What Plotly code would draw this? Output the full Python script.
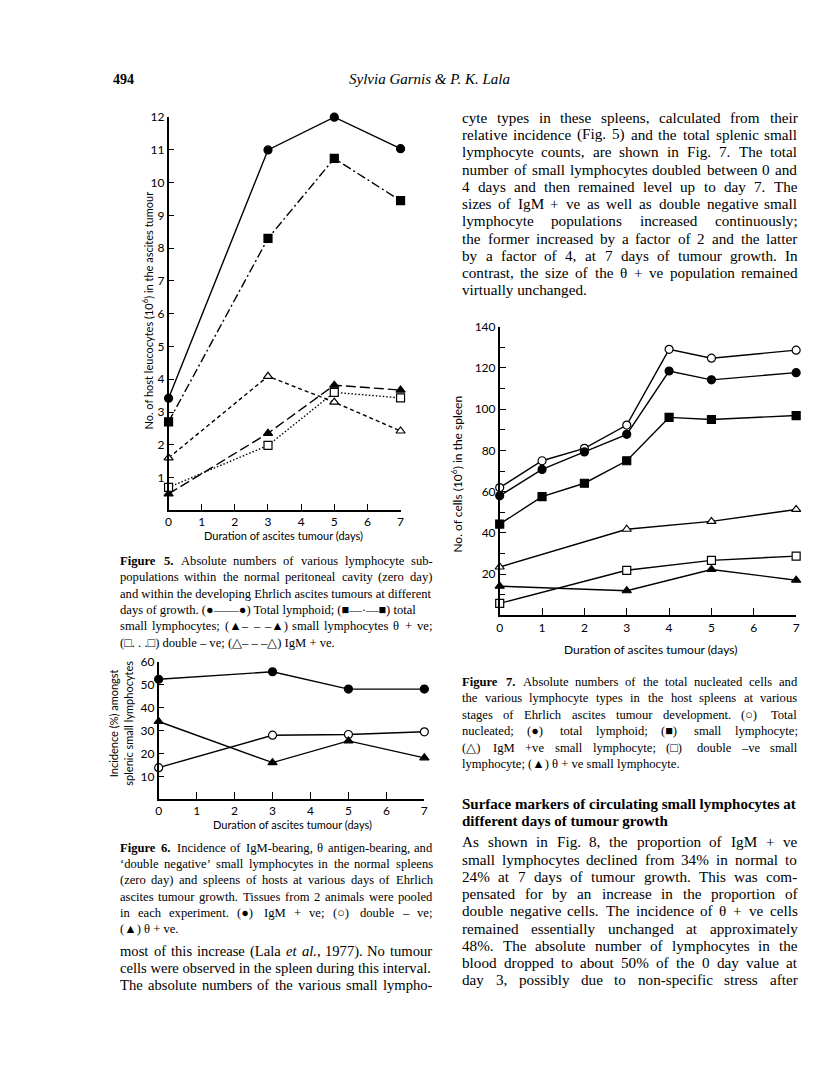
import re
import plotly.graph_objects as go

W, H = 816, 1087

# Figure 5: host leucocytes in the ascites tumour (10^6)
f5_days = [0, 3, 5, 7]
f5_total_lymphoid = [3.42, 11.0, 12.0, 11.04]
f5_small_lymph = [2.7, 8.3, 10.74, 9.45]
f5_theta = [0.5, 2.35, 3.82, 3.67]
f5_double_neg = [0.7, 1.98, 3.6, 3.43]
f5_igm = [1.6, 4.09, 3.3, 2.42]

# Figure 6: incidence (%) amongst splenic small lymphocytes
f6_days = [0, 3, 5, 7]
f6_igm = [52.5, 55.8, 48.2, 48.2]
f6_double_neg = [13.8, 28.0, 28.3, 29.5]
f6_theta = [34.0, 16.0, 25.5, 18.1]

# Figure 7: no. of cells in the spleen (10^6)
f7_days = [0, 1, 2, 3, 4, 5, 7]
f7_total_nucleated = [62, 75, 81, 92.3, 129, 124.7, 128.6]
f7_total_lymphoid = [58, 70.8, 79.3, 87.8, 118.5, 114.2, 117.7]
f7_small_lymph = [44.3, 57.6, 64.1, 75, 96, 95, 96.9]
f7_sub_days = [0, 3, 5, 7]
f7_igm = [23.5, 41.8, 45.6, 51.4]
f7_double_neg = [5.9, 21.9, 26.7, 28.8]
f7_theta = [14.2, 12.0, 22.3, 17.1]

SANS = "Lato"
SERIF = "Liberation Serif"


def px(p):
    return p / W


def py(p):
    return 1 - p / H


def series(x, y, symbol, filled, dash, xa, ya):
    return go.Scatter(
        x=x, y=y, mode="lines+markers", xaxis=xa, yaxis=ya,
        line=dict(color="black", width=1.4, dash=dash),
        marker=dict(symbol=symbol, size=8, color="black" if filled else "white",
                    line=dict(color="black", width=1.2)),
        cliponaxis=False, showlegend=False,
    )


fig = go.Figure()

# fig 5
fig.add_trace(series(f5_days, f5_total_lymphoid, "circle", True, "solid", "x", "y"))
fig.add_trace(series(f5_days, f5_small_lymph, "square", True, "9px,3px,2px,3px", "x", "y"))
fig.add_trace(series(f5_days, f5_theta, "triangle-up", True, "10px,4px", "x", "y"))
fig.add_trace(series(f5_days, f5_double_neg, "square", False, "1.5px,2px", "x", "y"))
fig.add_trace(series(f5_days, f5_igm, "triangle-up", False, "4px,3px", "x", "y"))

# fig 6
fig.add_trace(series(f6_days, f6_igm, "circle", True, "solid", "x2", "y2"))
fig.add_trace(series(f6_days, f6_double_neg, "circle", False, "solid", "x2", "y2"))
fig.add_trace(series(f6_days, f6_theta, "triangle-up", True, "solid", "x2", "y2"))

# fig 7
fig.add_trace(series(f7_days, f7_total_nucleated, "circle", False, "solid", "x3", "y3"))
fig.add_trace(series(f7_days, f7_total_lymphoid, "circle", True, "solid", "x3", "y3"))
fig.add_trace(series(f7_days, f7_small_lymph, "square", True, "solid", "x3", "y3"))
fig.add_trace(series(f7_sub_days, f7_igm, "triangle-up", False, "solid", "x3", "y3"))
fig.add_trace(series(f7_sub_days, f7_double_neg, "square", False, "solid", "x3", "y3"))
fig.add_trace(series(f7_sub_days, f7_theta, "triangle-up", True, "solid", "x3", "y3"))

axis_common = dict(showline=True, linecolor="black", linewidth=1.5, showgrid=False,
                   zeroline=False, ticks="inside", tickcolor="black", tickwidth=1.3,
                   tickfont=dict(family=SANS, size=12, color="black"))

fig.update_layout(
    width=W, height=H, margin=dict(l=0, r=0, t=0, b=0),
    paper_bgcolor="white", plot_bgcolor="white",
    xaxis=dict(domain=[px(167), px(401)], range=[0, 7], anchor="y",
               tickvals=list(range(8)), ticklen=7, **axis_common),
    yaxis=dict(domain=[py(506), py(110)], range=[0, 12], anchor="x",
               tickvals=list(range(1, 13)), ticklen=6, **axis_common),
    xaxis2=dict(domain=[px(157), px(425)], range=[0, 7], anchor="y2",
                tickvals=list(range(8)), ticklen=7, **axis_common),
    yaxis2=dict(domain=[py(797), py(659)], range=[0, 60], anchor="x2",
                tickvals=[10, 20, 30, 40, 50, 60], ticklen=6, **axis_common),
    xaxis3=dict(domain=[px(501), px(800)], range=[0, 7], anchor="y3",
                tickvals=list(range(8)), ticklen=8, **axis_common),
    yaxis3=dict(domain=[py(612), py(321)], range=[0, 140], anchor="x3",
                tickvals=list(range(20, 141, 20)), ticklen=7,
                minor=dict(tickvals=list(range(10, 140, 20)), ticks="inside",
                           ticklen=6, tickcolor="black"),
                **axis_common),
)

ann = []


def text(x, y, s, size=13, family=SERIF, anchor="left", angle=0):
    ann.append(dict(x=px(x), y=py(y), xref="paper", yref="paper", text=s,
                    showarrow=False, xanchor=anchor, yanchor="middle",
                    textangle=angle, borderpad=0,
                    font=dict(family=family, size=size, color="black")))


# Times-compatible advance widths (per 1000 em) for justifying the prose
CHAR_W = {}
for chars, w in [(" ,.", 250), ("ijlt:;/", 278), ("frI()[]-'‘’!", 333), ("sJ", 389),
                 ("acez?", 444), ("bdghknopquvxy0123456789*$#θ–", 500),
                 ("FPS", 556), ("+<=>", 564), ("ELTZ", 611), ("BCR", 667),
                 ("ADGHKNOQUVXYw", 722), ("m&", 778), ("%", 833), ("M", 889),
                 ("W", 944), ("—", 1000), ("●■○", 850), ("▲□△", 1000)]:
    for c in chars:
        CHAR_W[c] = w


def word_width(word, size):
    plain = re.sub(r"<[^>]+>", "", word).replace("&amp;", "&")
    w = sum(CHAR_W.get(c, 600) for c in plain) * size / 1000
    return w * (1.12 if "<b>" in word else 1.0)


def paragraph(lines, x0, x1, y0, step, size, justify_last=False, justify=True):
    for i, line in enumerate(lines):
        words = line.split(" ")
        widths = [word_width(w, size) for w in words]
        y = y0 + i * step
        last = i == len(lines) - 1
        gap = (x1 - x0 - sum(widths)) / max(len(words) - 1, 1)
        if not justify or len(words) < 2 or (last and not justify_last) or gap < 0.3 * size:
            text(x0, y, line, size=size)
            continue
        x = x0
        for w, wd in zip(words, widths):
            text(x, y, w, size=size)
            x += wd + gap


# page header
text(110, 72, "<b>494</b>", size=14)
text(430, 72, "<i>Sylvia Garnis &amp; P. K. Lala</i>", size=15, anchor="center")

# axis titles
text(283, 531, "Duration of ascites tumour (days)", size=11, family=SANS, anchor="center")
text(146, 305, "No. of host leucocytes (10<sup>6</sup>) in the ascites tumour",
     size=11, family=SANS, anchor="center", angle=-90)
text(292, 823, "Duration of ascites tumour (days)", size=11, family=SANS, anchor="center")
text(119, 720, "Incidence (%) amongst<br>splenic small lymphocytes",
     size=11, family=SANS, anchor="center", angle=-90)
text(653, 646, "Duration of ascites tumour (days)", size=12, family=SANS, anchor="center")
text(457, 470, "No. of cells (10<sup>6</sup>) in the spleen",
     size=12, family=SANS, anchor="center", angle=-90)

body_top = [
    "cyte types in these spleens, calculated from their",
    "relative incidence (Fig. 5) and the total splenic small",
    "lymphocyte counts, are shown in Fig. 7. The total",
    "number of small lymphocytes doubled between 0 and",
    "4 days and then remained level up to day 7. The",
    "sizes of IgM + ve as well as double negative small",
    "lymphocyte populations increased continuously;",
    "the former increased by a factor of 2 and the latter",
    "by a factor of 4, at 7 days of tumour growth. In",
    "contrast, the size of the θ + ve population remained",
    "virtually unchanged.",
]
paragraph(body_top, 462, 800, 110, 17.4, 15.2)

cap5 = [
    "<b>Figure</b> <b>5.</b> Absolute numbers of various lymphocyte sub-",
    "populations within the normal peritoneal cavity (zero day)",
    "and within the developing Ehrlich ascites tumours at different",
    "days of growth. (●——●) Total lymphoid; (■—·—■) total",
    "small lymphocytes; (▲– – –▲) small lymphocytes θ + ve;",
    "(□. . .□) double – ve; (△– – –△) IgM + ve.",
]
paragraph(cap5, 117, 432, 557, 16.5, 12.6)

cap6 = [
    "<b>Figure</b> <b>6.</b> Incidence of IgM-bearing, θ antigen-bearing, and",
    "‘double negative’ small lymphocytes in the normal spleens",
    "(zero day) and spleens of hosts at various days of Ehrlich",
    "ascites tumour growth. Tissues from 2 animals were pooled",
    "in each experiment. (●) IgM + ve; (○) double – ve;",
    "(▲) θ + ve.",
]
paragraph(cap6, 117, 432, 846, 16.4, 12.6)

body_left = [
    "most of this increase (Lala <i>et</i> <i>al.</i>, 1977). No tumour",
    "cells were observed in the spleen during this interval.",
    "The absolute numbers of the various small lympho-",
]
paragraph(body_left, 117, 432, 950, 17.2, 14.6, justify_last=True)

cap7 = [
    "<b>Figure</b> <b>7.</b> Absolute numbers of the total nucleated cells and",
    "the various lymphocyte types in the host spleens at various",
    "stages of Ehrlich ascites tumour development. (○) Total",
    "nucleated; (●) total lymphoid; (■) small lymphocyte;",
    "(△) IgM +ve small lymphocyte; (□) double –ve small",
    "lymphocyte; (▲) θ + ve small lymphocyte.",
]
paragraph(cap7, 462, 800, 679, 16.6, 12.6)

heading = [
    "<b>Surface markers of circulating small lymphocytes at</b>",
    "<b>different days of tumour growth</b>",
]
paragraph(heading, 462, 800, 802, 17.2, 15, justify=False)

body_bottom = [
    "As shown in Fig. 8, the proportion of IgM + ve",
    "small lymphocytes declined from 34% in normal to",
    "24% at 7 days of tumour growth. This was com-",
    "pensated for by an increase in the proportion of",
    "double negative cells. The incidence of θ + ve cells",
    "remained essentially unchanged at approximately",
    "48%. The absolute number of lymphocytes in the",
    "blood dropped to about 50% of the 0 day value at",
    "day 3, possibly due to non-specific stress after",
]
paragraph(body_bottom, 462, 800, 840, 17.4, 15.2, justify_last=True)

fig.update_layout(annotations=ann)
fig.write_html("out.html", config={"displayModeBar": False},
               post_script="document.body.style.margin='0';"
                           "document.body.style.overflow='hidden';")
